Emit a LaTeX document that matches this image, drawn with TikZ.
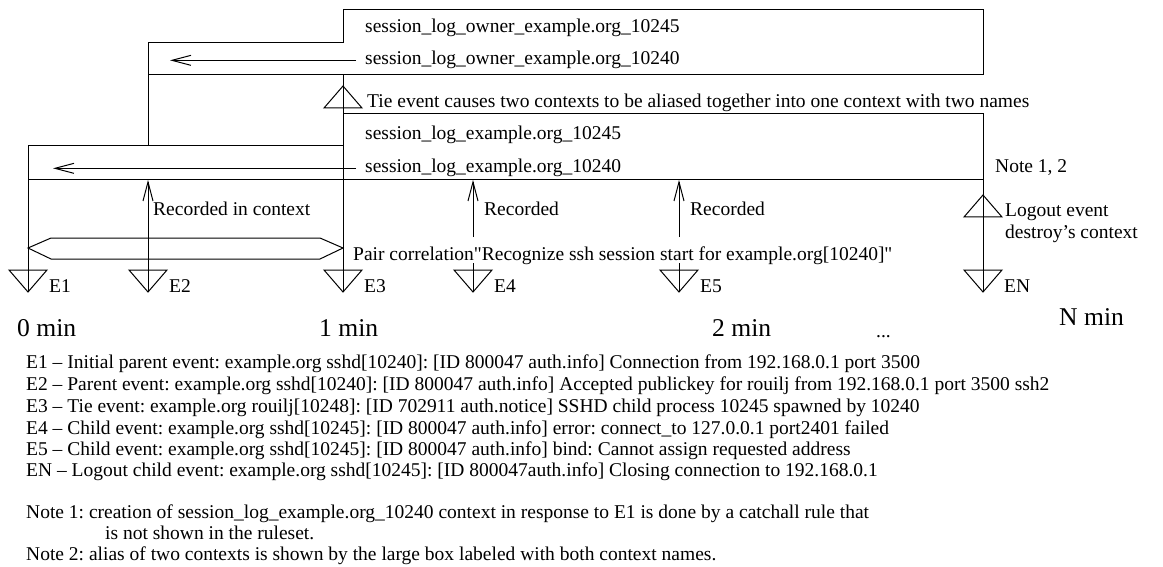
\documentclass[tikz,border=0pt]{standalone}
\usepackage{fontspec}
\setmainfont{Liberation Serif}
% same face without TeX ligatures, so that " stays a straight quote
\newfontfamily\straightserif{Liberation Serif}
\usetikzlibrary{arrows.meta}
\tikzset{
  ln/.style={line width=1pt, line join=miter},
  barb/.style={-{Straight Barb[length=19pt,width=10pt,line width=1pt]}},
  lbl/.style={anchor=base west, inner sep=0pt, font=\fontsize{19.5}{22}\selectfont\frenchspacing},
  tlbl/.style={anchor=base west, inner sep=0pt, font=\fontsize{25.6}{30}\selectfont},
}
\begin{document}
\begin{tikzpicture}[x=1pt,y=-1pt]
\useasboundingbox (0,0) rectangle (1163,567);

% event markers (apex of each triangle)
\coordinate (E1) at (28,292);
\coordinate (E2) at (148,292);
\coordinate (E3) at (343,292);
\coordinate (E4) at (473,292);
\coordinate (E5) at (679,292);
\coordinate (EN) at (983,292);
% upward triangles: tie and logout
\coordinate (tie) at (343,86);
\coordinate (logout) at (983,195);

% owner context outline
\draw[ln] (148,146) -- (148,43) -- (343,43) -- (343,10) -- (983,10) -- (983,75) -- (148,75);
% session context outline
\draw[ln] (E1) -- (28,146) -- (343,146) -- (343,114) -- (983,114) -- (EN);
\draw[ln] (28,180) -- (983,180);
\coordinate (boxbottom) at (0,180);
\draw[ln] (343,75) -- (E3);

% event triangles
\foreach \e in {E1,E2,E3,E4,E5,EN}
  \draw[ln,shift={(\e)}] (-19,-22) -- (19,-22) -- (0,0) -- cycle;
\foreach \e in {tie,logout}
  \draw[ln,shift={(\e)}] (0,0) -- (19,22) -- (-19,22) -- cycle;

% event labels
\foreach \e in {E1,E2,E3,E4,E5,EN}
  \node[lbl,xshift=21pt] (l\e) at (\e) {\e};

% context names
\node[lbl] (own45) at (365,33) {session\_log\_owner\_example.org\_10245};
\node[lbl] (own40) at (365,65) {session\_log\_owner\_example.org\_10240};
\node[lbl] (ses45) at (365,140) {session\_log\_example.org\_10245};
\node[lbl] (ses40) at (365,173) {session\_log\_example.org\_10240};
\coordinate (ownTip) at (170,0);
\coordinate (sesTip) at (53,0);
\draw[ln,barb] ([xshift=-9pt]own40.west) -- (ownTip |- own40.west);
\draw[ln,barb] ([xshift=-9pt]ses40.west) -- (sesTip |- ses40.west);

\node[lbl] (tietext) at (367,108) {Tie event causes two contexts to be aliased together into one context with two names};
\node[lbl] (notes) at (995,173) {Note 1, 2};

% recorded arrows
\node[lbl] (rec2) at (153,215) {Recorded in context};
\node[lbl] (rec4) at (484,215) {Recorded};
\node[lbl] (rec5) at (690,215) {Recorded};
\draw[ln,barb] (E2) -- (E2 |- boxbottom);
\coordinate (E4a) at (473,237);
\coordinate (E4b) at (473,263);
\coordinate (E5a) at (679,237);
\coordinate (E5b) at (679,263);
\draw[ln,barb] (E4a) -- (E4 |- boxbottom);
\draw[ln] (E4b) -- (E4);
\draw[ln,barb] (E5a) -- (E5 |- boxbottom);
\draw[ln] (E5b) -- (E5);

% pair correlation span
\draw[ln] (28,248) -- (51,238) -- (320,238) -- (343,248) -- (320,259) -- (51,259) -- cycle;
\node[lbl] (pair) at (353,260) {\straightserif Pair correlation"Recognize ssh session start for example.org[10240]"};

% logout note
\node[lbl] (lo1) at (1005,216) {Logout event};
\node[lbl] (lo2) at (1005,239) {destroy’s context};

% time axis
\node[tlbl] (t0) at (17,336) {0 min};
\node[tlbl] (t1) at (319,336) {1 min};
\node[tlbl] (t2) at (712,336) {2 min};
\node[lbl] (tdots) at (876,337) {...};
\node[tlbl] (tN) at (1059,325) {N min};

% legend
\node[lbl] (d1) at (26,368) {E1 – Initial parent event: example.org sshd[10240]: [ID 800047 auth.info] Connection from 192.168.0.1 port 3500};
\node[lbl] (d2) at (26,390) {E2 – Parent event: example.org sshd[10240]: [ID 800047 auth.info] Accepted publickey for rouilj from 192.168.0.1 port 3500 ssh2};
\node[lbl] (d3) at (26,412) {E3 – Tie event: example.org rouilj[10248]: [ID 702911 auth.notice] SSHD child process 10245 spawned by 10240};
\node[lbl] (d4) at (26,434) {E4 – Child event: example.org sshd[10245]: [ID 800047 auth.info] error: connect\_to 127.0.0.1 port2401 failed};
\node[lbl] (d5) at (26,455) {E5 – Child event: example.org sshd[10245]: [ID 800047 auth.info] bind: Cannot assign requested address};
\node[lbl] (d6) at (26,476) {EN – Logout child event: example.org sshd[10245]: [ID 800047auth.info] Closing connection to 192.168.0.1};
\node[lbl] (n1) at (26,518) {Note 1: creation of session\_log\_example.org\_10240 context in response to E1 is done by a catchall rule that};
\node[lbl] (n1b) at (105,539) {is not shown in the ruleset.};
\node[lbl] (n2) at (26,560) {Note 2: alias of two contexts is shown by the large box labeled with both context names.};
\end{tikzpicture}
\end{document}
